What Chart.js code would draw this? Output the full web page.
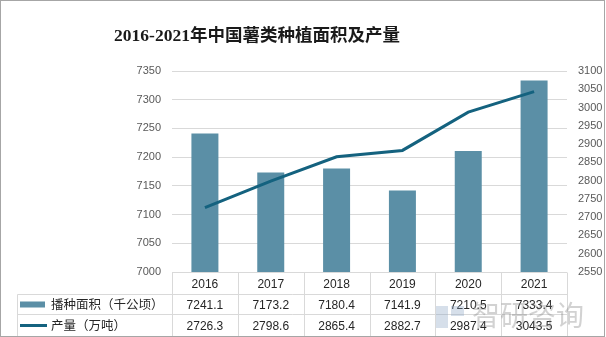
<!DOCTYPE html>
<html lang="zh">
<head>
    <meta charset="UTF-8">
    <title>薯类种植面积及产量</title>
    <script src="https://cdn.jsdelivr.net/npm/chart.js"></script>
    <style>
        html, body {
            margin: 0;
            padding: 0;
            background: #ffffff;
        }
        .wrap {
            position: relative;
            width: 606px;
            height: 337px;
        }
    </style>
</head>
<body>
    <div class="wrap">
        <canvas id="potatoChart"></canvas>
    </div>

    <script>
        const years = ['2016', '2017', '2018', '2019', '2020', '2021'];
        const areaValues = [7241.1, 7173.2, 7180.4, 7141.9, 7210.5, 7333.4];     // 千公顷
        const outputValues = [2726.3, 2798.6, 2865.4, 2882.7, 2987.4, 3043.5];   // 万吨
        const areaAxis = [7000, 7350];
        const outputAxis = [2550, 3100];
        const tickStep = 50;

        const seriesNames = ['播种面积（千公顷）', '产量（万吨）'];
        const chartTitle = '2016-2021年中国薯类种植面积及产量';

        const barColor = '#5b8fa6';
        const lineColor = '#14627f';
        const gridColor = '#d9d9d9';

        // title, data table under the plot, watermark and frame
        const tablePlugin = {
            id: 'dataTable',
            beforeDraw(chart) {
                const ctx = chart.ctx;
                ctx.save();
                ctx.fillStyle = '#ffffff';
                ctx.fillRect(0, 0, chart.width, chart.height);
                ctx.restore();
            },
            afterDraw(chart) {
                const ctx = chart.ctx;
                const area = chart.chartArea;
                const xs = chart.scales.x;
                const colW = (area.right - area.left) / years.length;
                const top = Math.round(area.bottom) + 0.5;
                const row1 = top + 22;
                const row2 = row1 + 20;
                const bottom = row2 + 22;
                const tableLeft = 17.5;

                ctx.save();
                ctx.strokeStyle = gridColor;
                ctx.lineWidth = 1;
                ctx.beginPath();
                ctx.moveTo(area.left, top); ctx.lineTo(area.right, top);
                [row1, row2, bottom].forEach(y => {
                    ctx.moveTo(tableLeft, y); ctx.lineTo(area.right, y);
                });
                ctx.moveTo(tableLeft, row1); ctx.lineTo(tableLeft, bottom);
                for (let i = 0; i <= years.length; i++) {
                    const x = Math.round(area.left + i * colW) + 0.5;
                    ctx.moveTo(x, top); ctx.lineTo(x, bottom);
                }
                ctx.stroke();

                // values
                ctx.fillStyle = '#262626';
                ctx.font = '12px "Liberation Sans", Arial, sans-serif';
                ctx.textAlign = 'center';
                ctx.textBaseline = 'middle';
                years.forEach((y, i) => {
                    const cx = xs.getPixelForValue(i);
                    ctx.fillText(areaValues[i].toFixed(1), cx, (row1 + row2) / 2 + 1);
                    ctx.fillText(outputValues[i].toFixed(1), cx, (row2 + bottom) / 2 + 1);
                });

                // legend keys
                ctx.fillStyle = barColor;
                ctx.fillRect(20, (row1 + row2) / 2 - 3, 25, 6);
                ctx.strokeStyle = lineColor;
                ctx.lineWidth = 3;
                ctx.beginPath();
                ctx.moveTo(20, (row2 + bottom) / 2);
                ctx.lineTo(47, (row2 + bottom) / 2);
                ctx.stroke();

                ctx.fillStyle = '#262626';
                ctx.font = '12.5px "Noto Sans CJK SC", sans-serif';
                ctx.textAlign = 'left';
                ctx.fillText(seriesNames[0], 51, (row1 + row2) / 2);
                ctx.fillText(seriesNames[1], 51, (row2 + bottom) / 2);

                // title
                ctx.fillStyle = '#1a1a1a';
                ctx.font = 'bold 17.5px "Liberation Serif", "Noto Sans CJK SC", serif';
                ctx.textAlign = 'center';
                ctx.fillText(chartTitle, 257, 36);

                // watermark
                ctx.globalAlpha = 0.35;
                ctx.fillStyle = '#8aa3c4';
                ctx.fillRect(436, 306, 12, 22);
                ctx.fillRect(451, 306, 13, 10);
                ctx.fillStyle = '#7f7f7f';
                ctx.font = '28px "Noto Sans CJK SC", sans-serif';
                ctx.fillText('智研咨询', 528, 315);
                ctx.font = '13px "Liberation Sans", sans-serif';
                ctx.fillText('www.chyxx.com', 510, 342);
                ctx.globalAlpha = 1;

                // frame
                ctx.strokeStyle = '#a6a6a6';
                ctx.lineWidth = 1;
                ctx.strokeRect(0.5, 0.5, 604, 336);
                ctx.restore();
            }
        };

        const tickFont = { family: '"Liberation Sans", Arial, sans-serif', size: 11 };
        const plainTick = value => String(value);

        new Chart(document.getElementById('potatoChart'), {
            data: {
                labels: years,
                datasets: [
                    {
                        type: 'line',
                        label: seriesNames[1],
                        data: outputValues,
                        yAxisID: 'y1',
                        borderColor: lineColor,
                        borderWidth: 3,
                        pointRadius: 0,
                        tension: 0,
                        order: 1
                    },
                    {
                        type: 'bar',
                        label: seriesNames[0],
                        data: areaValues,
                        yAxisID: 'y',
                        backgroundColor: barColor,
                        categoryPercentage: 1,
                        barPercentage: 0.41,
                        order: 2
                    }
                ]
            },
            options: {
                responsive: true,
                maintainAspectRatio: false,
                animation: false,
                layout: { padding: { top: 71, left: 0, right: 0, bottom: 0 } },
                plugins: {
                    legend: { display: false },
                    tooltip: { enabled: false }
                },
                scales: {
                    x: {
                        grid: { display: false, drawTicks: false },
                        border: { display: false },
                        ticks: {
                            color: '#262626',
                            font: { family: '"Liberation Sans", Arial, sans-serif', size: 12 },
                            padding: 5,
                            maxRotation: 0
                        },
                        afterFit(scale) { scale.height = 65; }
                    },
                    y: {
                        position: 'left',
                        min: areaAxis[0],
                        max: areaAxis[1],
                        ticks: { stepSize: tickStep, color: '#595959', font: tickFont, padding: 11, callback: plainTick },
                        grid: { color: gridColor, drawTicks: false },
                        border: { display: false },
                        afterFit(scale) { scale.width = 172; }
                    },
                    y1: {
                        position: 'right',
                        min: outputAxis[0],
                        max: outputAxis[1],
                        ticks: { stepSize: tickStep, color: '#595959', font: tickFont, padding: 11, callback: plainTick },
                        grid: { display: false, drawTicks: false },
                        border: { display: false },
                        afterFit(scale) { scale.width = 39; }
                    }
                }
            },
            plugins: [tablePlugin]
        });
    </script>
</body>
</html>
